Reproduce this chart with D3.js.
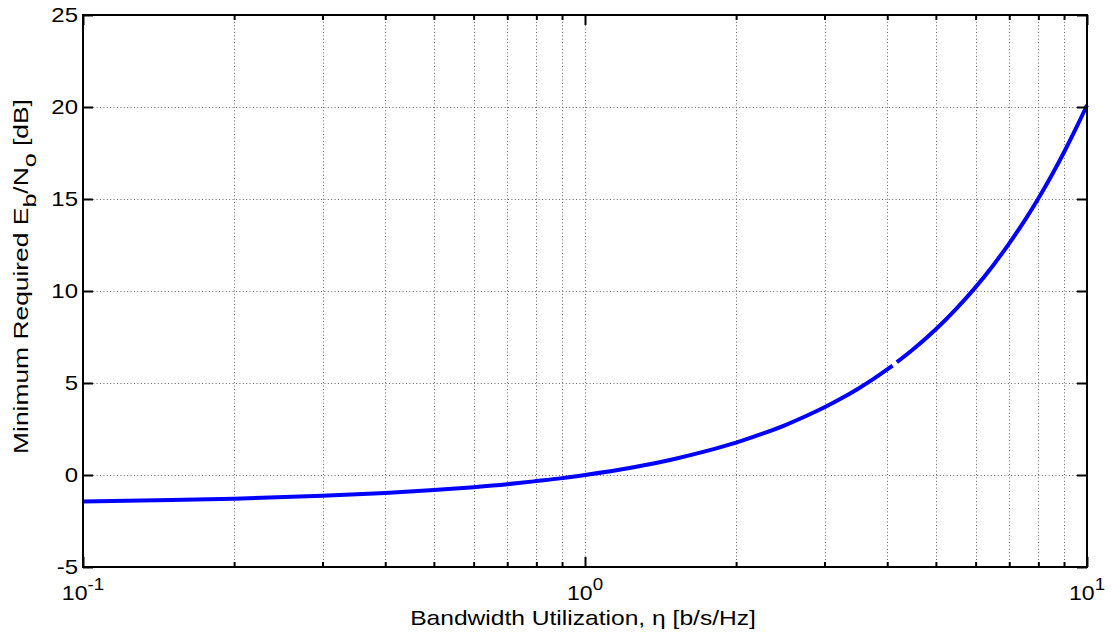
<!DOCTYPE html>
<html>
<head>
<meta charset="utf-8">
<script src="https://cdn.jsdelivr.net/npm/d3@7"></script>
<style>
  html, body { margin: 0; padding: 0; background: #fff; }
  svg { display: block; }
  text { font-family: "Liberation Sans", Arial, sans-serif; fill: #000; }
</style>
</head>
<body>
<svg id="chart" width="1112" height="634"></svg>
<script>
// Minimum Eb/No versus bandwidth utilization (Shannon limit curve)
// The curve is drawn in two pieces with a small break between them.
const etaA  = [0.1, 0.15, 0.2, 0.3, 0.4, 0.5, 0.6, 0.7, 0.8, 0.9, 1.0, 1.25, 1.5, 1.75, 2, 2.25, 2.5, 2.75, 3, 3.25, 3.5, 3.75, 4, 4.1];
const ebnoA = [-1.44, -1.36, -1.29, -1.13, -0.98, -0.82, -0.66, -0.50, -0.33, -0.17, 0.00, 0.42, 0.86, 1.31, 1.76, 2.23, 2.70, 3.19, 3.68, 4.18, 4.69, 5.21, 5.74, 5.95];
const etaB  = [4.18, 4.5, 5, 5.5, 6, 6.5, 7, 7.5, 8, 8.5, 9, 9.5, 10];
const ebnoB = [6.13, 6.82, 7.92, 9.06, 10.21, 11.39, 12.59, 13.80, 15.03, 16.28, 17.54, 18.82, 20.10];

const yTicks = [-5, 0, 5, 10, 15, 20, 25];
const xMajor = [0.1, 1, 10];
const xMajorExp = ["-1", "0", "1"];
const xMinor = [0.2, 0.3, 0.4, 0.5, 0.6, 0.7, 0.8, 0.9, 2, 3, 4, 5, 6, 7, 8, 9];

const xLabel = "Bandwidth Utilization, \u03b7 [b/s/Hz]";

const svg = d3.select("#chart");
const L = 83, R = 1087, T = 15, B = 567;

const x = d3.scaleLog().domain([0.1, 10]).range([L, R]);
const y = d3.scaleLinear().domain([-5, 25]).range([B, T]);

// dotted grid
const grid = svg.append("g")
  .attr("stroke", "#666").attr("stroke-width", 1).attr("stroke-dasharray", "1,2.4").attr("fill", "none");
[...xMinor, 1].forEach(v => {
  const px = Math.round(x(v)) + 0.5;
  grid.append("line").attr("x1", px).attr("x2", px).attr("y1", T).attr("y2", B);
});
yTicks.filter(v => v > -5 && v < 25).forEach(v => {
  const py = Math.round(y(v)) + 0.5;
  grid.append("line").attr("x1", L).attr("x2", R).attr("y1", py).attr("y2", py);
});

// curve
const line = d3.line().x(d => x(d[0])).y(d => y(d[1])).curve(d3.curveMonotoneX);
const segs = [d3.zip(etaA, ebnoA), d3.zip(etaB, ebnoB)];
svg.append("g").selectAll("path").data(segs).join("path")
  .attr("d", line)
  .attr("fill", "none")
  .attr("stroke", "#0000ff")
  .attr("stroke-width", 4)
  .attr("stroke-linejoin", "round");

// axes with inward ticks on all four sides
const axB = d3.axisBottom(x).tickValues(xMajor).tickSizeInner(-10).tickSizeOuter(0).tickFormat("");
const axT = d3.axisTop(x).tickValues(xMajor).tickSizeInner(-10).tickSizeOuter(0).tickFormat("");
const axBm = d3.axisBottom(x).tickValues(xMinor).tickSizeInner(-5).tickSizeOuter(0).tickFormat("");
const axTm = d3.axisTop(x).tickValues(xMinor).tickSizeInner(-5).tickSizeOuter(0).tickFormat("");
const axL = d3.axisLeft(y).tickValues(yTicks).tickSizeInner(-10).tickSizeOuter(0).tickFormat("");
const axR = d3.axisRight(y).tickValues(yTicks).tickSizeInner(-10).tickSizeOuter(0).tickFormat("");

[[axB, `translate(0,${B})`], [axBm, `translate(0,${B})`], [axT, `translate(0,${T})`], [axTm, `translate(0,${T})`],
 [axL, `translate(${L},0)`], [axR, `translate(${R},0)`]].forEach(([ax, tr]) => {
  const g = svg.append("g").attr("transform", tr).call(ax);
  g.select(".domain").remove();
  g.selectAll(".tick line").attr("stroke", "#000").attr("stroke-width", 2);
});

// frame
svg.append("rect").attr("x", L).attr("y", T).attr("width", R - L).attr("height", B - T)
  .attr("fill", "none").attr("stroke", "#000").attr("stroke-width", 2);

// y tick labels (slightly wide lettering)
svg.append("g").selectAll("text").data(yTicks).join("text")
  .attr("transform", d => `translate(${L - 5},${y(d) + 7}) scale(1.2,1)`)
  .attr("text-anchor", "end").attr("font-size", 20)
  .text(d => d);

// x tick labels 10^n
const xt = svg.append("g").selectAll("text").data(xMajor).join("text")
  .attr("transform", d => `translate(${x(d)},600) scale(1.1,1)`)
  .attr("text-anchor", "middle").attr("font-size", 21);
xt.append("tspan").text("10");
xt.append("tspan").attr("dy", -10).attr("font-size", 17).text((d, i) => xMajorExp[i]);

// x axis title, widened to span 410..756
const xl = svg.append("text").attr("text-anchor", "middle").attr("font-size", 20).text(xLabel);
const xw = xl.node().getComputedTextLength();
xl.attr("transform", `translate(583,625) scale(${346 / xw},1)`);

// y axis title with subscripts, stretched along its length to span 99..454
const yt = svg.append("text").attr("text-anchor", "middle").attr("font-size", 20);
yt.append("tspan").text("Minimum Required E");
yt.append("tspan").attr("dy", 8).attr("font-size", 19).text("b");
yt.append("tspan").attr("dy", -8).text("/N");
yt.append("tspan").attr("dy", 8).attr("font-size", 19).text("o");
yt.append("tspan").attr("dy", -8).text(" [dB]");
const yw = yt.node().getComputedTextLength();
yt.attr("transform", `translate(28,276.5) rotate(-90) scale(${355 / yw},1)`);
</script>
</body>
</html>
